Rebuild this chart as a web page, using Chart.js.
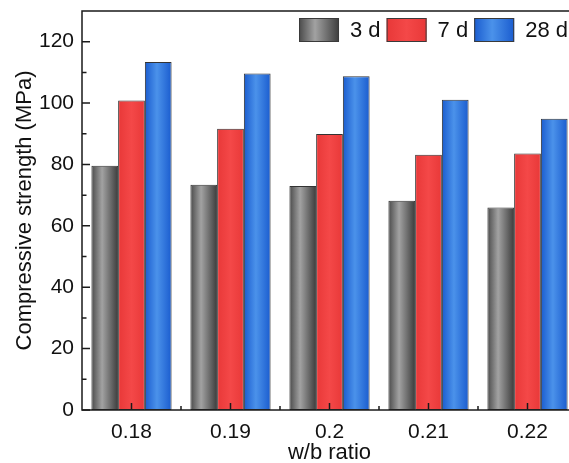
<!DOCTYPE html>
<html>
<head>
<meta charset="utf-8">
<script src="https://cdn.jsdelivr.net/npm/chart.js@4.4.0/dist/chart.umd.min.js"></script>
<style>
  html, body { margin: 0; padding: 0; background: #fff; overflow: hidden; }
  #wrap { width: 580px; height: 463px; }
</style>
</head>
<body>
<div id="wrap"><canvas id="strength-chart"></canvas></div>
<script>
// data
const wbRatios = ['0.18', '0.19', '0.2', '0.21', '0.22'];
const strength3d = [79.6, 73.4, 73.0, 68.2, 66.0];
const strength7d = [100.8, 91.6, 89.9, 83.2, 83.6];
const strength28d = [113.4, 109.6, 108.7, 101.1, 94.9];
const seriesNames = ['3 d', '7 d', '28 d'];
const yTicks = [0, 20, 40, 60, 80, 100, 120];
const yMinorTicks = [10, 30, 50, 70, 90, 110];

const catPct = 0.81;
const FONT = '"Liberation Sans", Arial, sans-serif';

// horizontal shading for each series (cylinder look)
const shades = [
  [[0, '#4a4a4a'], [0.4, '#a2a2a2'], [1, '#3c3c3c']],
  [[0, '#e83838'], [0.5, '#f44848'], [1, '#e83838']],
  [[0, '#1a5ccf'], [0.45, '#4b92ea'], [1, '#1a5ccf']]
];
const flat = ['#7a7a7a', '#f04040', '#3a7ee0'];

function makeGradient(ctx, left, width, stops) {
  const g = ctx.createLinearGradient(left, 0, left + width, 0);
  stops.forEach(s => g.addColorStop(s[0], s[1]));
  return g;
}

function barFill(series) {
  return context => {
    if (context.type !== 'data') return flat[series];
    const chart = context.chart;
    if (!chart.chartArea) return flat[series];
    const x = chart.scales.x;
    const cat = x.width / wbRatios.length;
    const group = cat * catPct;
    const bw = group / 3;
    const left = x.getPixelForValue(context.dataIndex) - group / 2 + series * bw;
    return makeGradient(chart.ctx, left, bw, shades[series]);
  };
}

// inward ticks, frame and the legend inside the plot
const framePlugin = {
  id: 'frame',
  afterDraw(chart) {
    const ctx = chart.ctx;
    const a = chart.chartArea;
    const x = chart.scales.x;
    const y = chart.scales.y;
    ctx.save();
    ctx.strokeStyle = '#1a1a1a';
    ctx.lineWidth = 1.5;
    ctx.strokeRect(a.left, a.top, a.right - a.left, a.bottom - a.top);

    ctx.beginPath();
    yTicks.forEach(v => {
      const py = y.getPixelForValue(v);
      ctx.moveTo(a.left, py); ctx.lineTo(a.left + 8, py);
    });
    yMinorTicks.forEach(v => {
      const py = y.getPixelForValue(v);
      ctx.moveTo(a.left, py); ctx.lineTo(a.left + 4.5, py);
    });
    const cat = x.width / wbRatios.length;
    wbRatios.forEach((r, i) => {
      const px = x.getPixelForValue(i);
      ctx.moveTo(px, a.bottom); ctx.lineTo(px, a.bottom - 7);
      if (i > 0) {
        const bx = px - cat / 2;
        ctx.moveTo(bx, a.bottom); ctx.lineTo(bx, a.bottom - 4);
      }
    });
    ctx.stroke();

    // legend
    const boxW = 40, boxH = 24, gap = 11, itemGap = 6;
    ctx.font = '22px ' + FONT;
    const widths = seriesNames.map(n => ctx.measureText(n).width);
    let total = 0;
    widths.forEach((w, i) => { total += boxW + gap + w + (i < widths.length - 1 ? itemGap : 0); });
    let lx = a.right - 9 - total;
    const ly = a.top + 7;
    ctx.textBaseline = 'middle';
    ctx.textAlign = 'left';
    seriesNames.forEach((n, i) => {
      ctx.fillStyle = makeGradient(ctx, lx, boxW, shades[i]);
      ctx.fillRect(lx, ly, boxW, boxH);
      ctx.lineWidth = 1;
      ctx.strokeStyle = '#3a3a3a';
      ctx.strokeRect(lx + 0.5, ly + 0.5, boxW - 1, boxH - 1);
      ctx.fillStyle = '#111';
      ctx.fillText(n, lx + boxW + gap, ly + boxH / 2 + 1);
      lx += boxW + gap + widths[i] + itemGap;
    });
    ctx.restore();
  }
};

const dsCommon = {
  borderColor: '#333333',
  borderWidth: 1,
  borderSkipped: false,
  categoryPercentage: catPct,
  barPercentage: 1
};

new Chart(document.getElementById('strength-chart'), {
  type: 'bar',
  data: {
    labels: wbRatios,
    datasets: [
      { label: seriesNames[0], data: strength3d, backgroundColor: barFill(0), ...dsCommon },
      { label: seriesNames[1], data: strength7d, backgroundColor: barFill(1), ...dsCommon },
      { label: seriesNames[2], data: strength28d, backgroundColor: barFill(2), ...dsCommon }
    ]
  },
  options: {
    responsive: true,
    maintainAspectRatio: false,
    animation: false,
    layout: { padding: { top: 11, right: 3, left: 0, bottom: 0 } },
    scales: {
      x: {
        grid: { display: false, drawTicks: false },
        border: { display: false },
        ticks: { color: '#111', font: { family: FONT, size: 21 }, padding: 10, maxRotation: 0 },
        title: { display: true, text: 'w/b ratio', color: '#111', font: { family: FONT, size: 22, lineHeight: 1 }, padding: { top: 0, bottom: -1 } },
        afterFit: scale => { scale.height = 53; scale.paddingLeft = 0; scale.paddingRight = 0; }
      },
      y: {
        min: 0,
        max: 130,
        grid: { display: false, drawTicks: false },
        border: { display: false },
        afterBuildTicks: scale => { scale.ticks = yTicks.map(v => ({ value: v })); },
        ticks: { color: '#111', font: { family: FONT, size: 21 }, padding: 8 },
        title: { display: true, text: 'Compressive strength (MPa)', color: '#111', font: { family: FONT, size: 22 }, padding: { top: 12, bottom: 0 } },
        afterFit: scale => { scale.width = 82; scale.paddingTop = 0; scale.paddingBottom = 0; }
      }
    },
    plugins: {
      tooltip: { enabled: false },
      legend: { display: false }
    }
  },
  plugins: [framePlugin]
});
</script>
</body>
</html>
